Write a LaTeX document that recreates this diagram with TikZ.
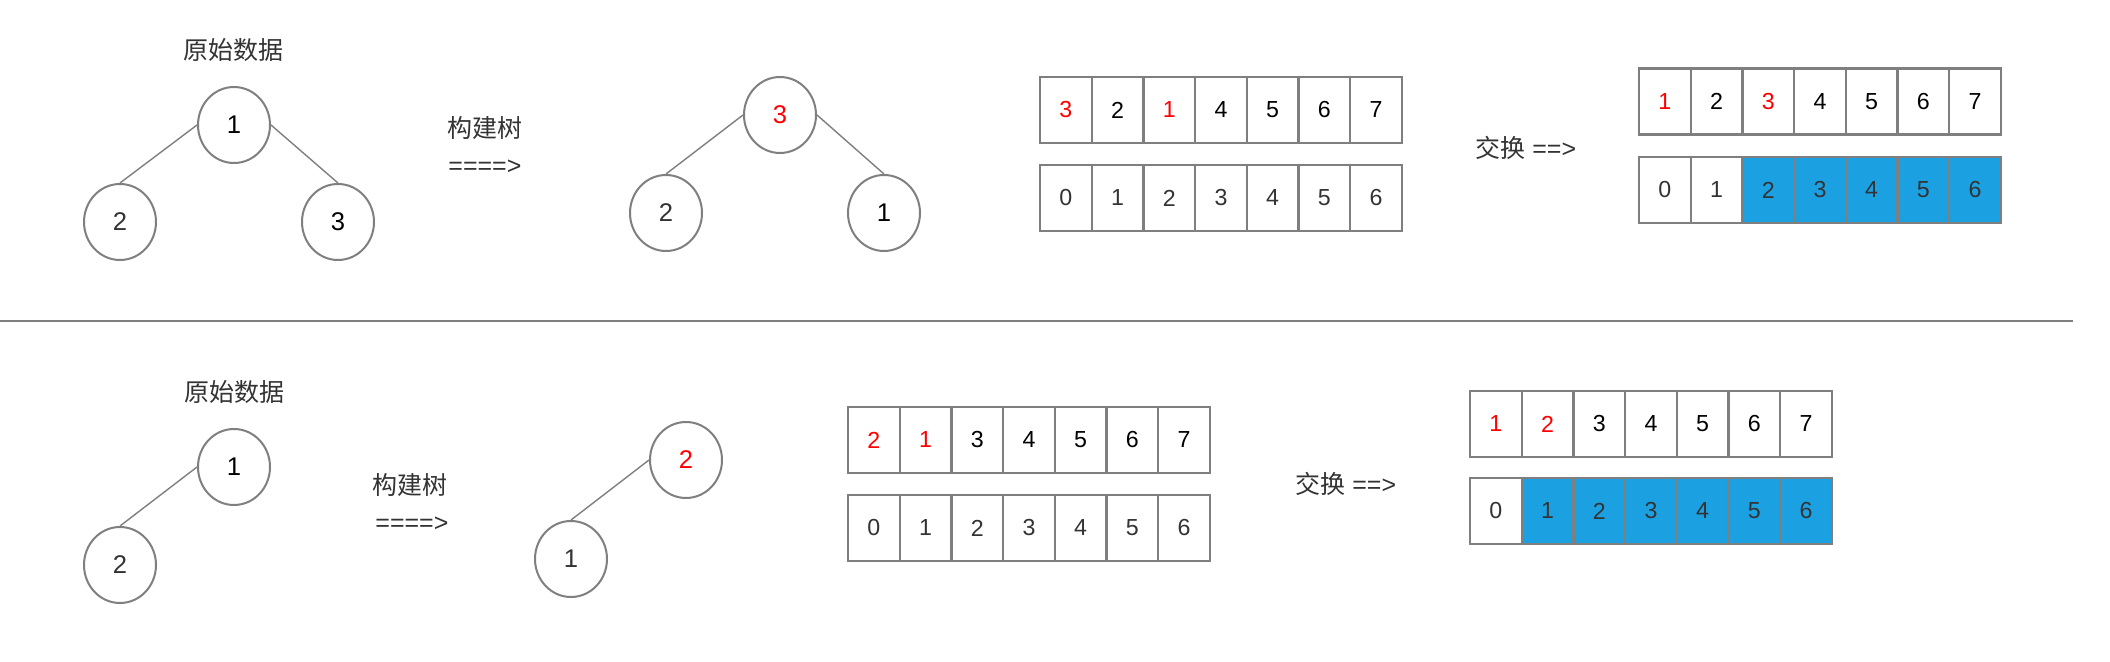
\documentclass[tikz,border=0pt]{standalone}
\usepackage{fontspec}
\setmainfont{Liberation Sans}
\newfontfamily\cjk{Noto Sans CJK SC}
\usetikzlibrary{shapes.geometric}
\definecolor{lineg}{HTML}{7F7F7F}
\definecolor{txtg}{HTML}{333333}
\definecolor{cblue}{HTML}{1BA1E2}
\definecolor{cred}{HTML}{FF0000}
\begin{document}
\begin{tikzpicture}[x=0.5pt,y=-0.5pt,
  tnode/.style={ellipse,draw=lineg,line width=1pt,minimum width=36pt,minimum height=38pt,inner sep=0pt,font=\fontsize{12.8pt}{15pt}\selectfont},
  cell/.style={rectangle,draw=lineg,line width=1.1pt,minimum width=25.85pt,minimum height=33pt,inner sep=0pt,font=\fontsize{11.6pt}{14pt}\selectfont},
  tedge/.style={draw=lineg,line width=0.7pt},
  sepline/.style={draw=lineg,line width=0.8pt},
  lbl/.style={inner sep=0pt,text=txtg,font=\fontsize{12.5pt}{15pt}\selectfont},
]
\useasboundingbox[fill=white] (0,0) rectangle (2110,662);

% ---------- top row ----------
\node[lbl] (ttitle) at (233,50) {\cjk 原始数据};
\node[tnode] (A1) at (234,125) {1};
\node[tnode,text=txtg] (A2) at (120,222) {2};
\node[tnode] (A3) at (338,222) {3};
\draw[tedge] (A1.west) -- (A2.north);
\draw[tedge] (A1.east) -- (A3.north);

\node[lbl,anchor=west] (tbuild) at (447,128) {\cjk 构建树};
\node[lbl,anchor=west] (tarrow) at (448,167) {====>};

\node[tnode,text=cred] (B3) at (780,115) {3};
\node[tnode,text=txtg] (B2) at (666,213) {2};
\node[tnode] (B1) at (884,213) {1};
\draw[tedge] (B3.west) -- (B2.north);
\draw[tedge] (B3.east) -- (B1.north);

\foreach \v/\c [count=\i] in {3/cred,2/black,1/cred,4/black,5/black,6/black,7/black}
  \node[cell,text=\c] (TAv\i) at ({1040+(\i-0.5)*51.7},110) {\v};
\foreach \v [count=\i] in {0,1,2,3,4,5,6}
  \node[cell,text=txtg] (TAi\i) at ({1040+(\i-0.5)*51.7},198) {\v};

\node[lbl,anchor=west] (tswap) at (1475,148) {{\cjk 交换} ==>};

\foreach \v/\c [count=\i] in {1/cred,2/black,3/cred,4/black,5/black,6/black,7/black}
  \node[cell,text=\c] (TBv\i) at ({1639+(\i-0.5)*51.7},101.5) {\v};
\foreach \v/\f [count=\i] in {0/white,1/white,2/cblue,3/cblue,4/cblue,5/cblue,6/cblue}
  \node[cell,fill=\f,text=txtg] (TBi\i) at ({1639+(\i-0.5)*51.7},190) {\v};

% ---------- separator ----------
\coordinate (sepL) at (0,321);
\coordinate (sepR) at (2073,321);
\draw[sepline] (sepL) -- (sepR);

% ---------- bottom row ----------
\node[lbl] (btitle) at (234,392) {\cjk 原始数据};
\node[tnode] (C1) at (234,467) {1};
\node[tnode,text=txtg] (C2) at (120,565) {2};
\draw[tedge] (C1.west) -- (C2.north);

\node[lbl,anchor=west] (bbuild) at (372,485) {\cjk 构建树};
\node[lbl,anchor=west] (barrow) at (375,524) {====>};

\node[tnode,text=cred] (D2) at (686,460) {2};
\node[tnode,text=txtg] (D1) at (571,559) {1};
\draw[tedge] (D2.west) -- (D1.north);

\foreach \v/\c [count=\i] in {2/cred,1/cred,3/black,4/black,5/black,6/black,7/black}
  \node[cell,text=\c] (BAv\i) at ({848+(\i-0.5)*51.7},440) {\v};
\foreach \v [count=\i] in {0,1,2,3,4,5,6}
  \node[cell,text=txtg] (BAi\i) at ({848+(\i-0.5)*51.7},528) {\v};

\node[lbl,anchor=west] (bswap) at (1295,484) {{\cjk 交换} ==>};

\foreach \v/\c [count=\i] in {1/cred,2/cred,3/black,4/black,5/black,6/black,7/black}
  \node[cell,text=\c] (BBv\i) at ({1470+(\i-0.5)*51.7},424) {\v};
\foreach \v/\f [count=\i] in {0/white,1/cblue,2/cblue,3/cblue,4/cblue,5/cblue,6/cblue}
  \node[cell,fill=\f,text=txtg] (BBi\i) at ({1470+(\i-0.5)*51.7},511) {\v};
\end{tikzpicture}
\end{document}
